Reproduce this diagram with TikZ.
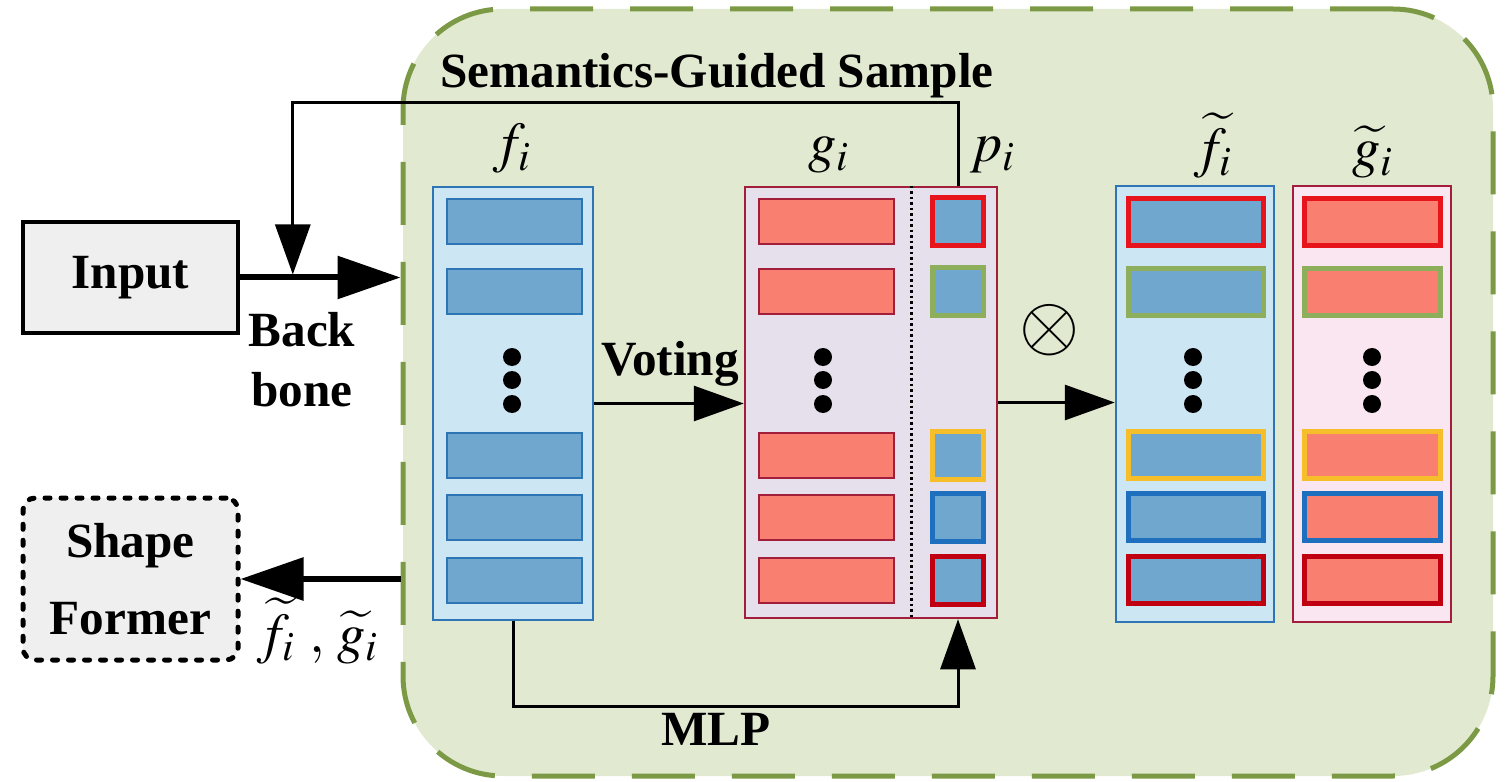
\documentclass[tikz,border=0pt]{standalone}
\usepackage{amsmath}
\usepackage{mathptmx}
\usepackage{fontspec}
\setmainfont{Liberation Serif}
\usepackage{tikz}
\usetikzlibrary{arrows.meta,calc}
\definecolor{regfill}{HTML}{E1E9D0}
\definecolor{regline}{HTML}{7C9A45}
\definecolor{boxgray}{HTML}{EFEFEF}
\definecolor{colblue}{HTML}{CCE6F3}
\definecolor{barblue}{HTML}{6FA7CF}
\definecolor{edgeblue}{HTML}{2E75B6}
\definecolor{collav}{HTML}{E6DFEC}
\definecolor{colpink}{HTML}{FAE6F1}
\definecolor{barred}{HTML}{F98070}
\definecolor{edgered}{HTML}{A31E3B}
\definecolor{rimred}{HTML}{E8141C}
\definecolor{rimgreen}{HTML}{8DAE5B}
\definecolor{rimyellow}{HTML}{F6BE2B}
\definecolor{rimblue}{HTML}{1F6FBF}
\definecolor{rimdark}{HTML}{C00010}
\tikzset{
  region/.style={draw=regline, fill=regfill, line width=0.5mm, dash pattern=on 6.3mm off 3.7mm, rounded corners=10mm, inner sep=0},
  io/.style={draw=black, fill=boxgray, line width=0.35mm, inner sep=0, align=center, font=\fontsize{14}{22}\selectfont\bfseries},
  sfbox/.style={io, line width=0.5mm, line cap=round, dash pattern=on 0.5mm off 1.1mm, rounded corners=1.2mm},
  col/.style={line width=0.25mm, inner sep=0, minimum height=43.3mm},
  bar/.style={line width=0.2mm},
  rim/.style={line width=0.5mm},
  divider/.style={line width=0.3mm, dash pattern=on 0.25mm off 0.3mm},
  thk/.style={line width=0.6mm, -{Triangle[length=6.3mm,width=4.2mm]}},
  thn/.style={line width=0.3mm, -{Triangle[length=5mm,width=3.5mm]}},
  labb/.style={font=\fontsize{14}{17}\selectfont\bfseries, inner sep=0},
  labm/.style={font=\fontsize{16}{19}\selectfont, inner sep=0, anchor=base}
}
% bar: style, centre x, centre y, width, height
\newcommand{\FeatBar}[5]{%
  \draw[#1] (#2-#4/2,#3-#5/2) rectangle (#2+#4/2,#3+#5/2);
}

\begin{document}
\begin{tikzpicture}[x=0.1mm, y=-0.1mm]
  \useasboundingbox (0,0) rectangle (1512,782);

  \node[region, minimum width=109mm, minimum height=76.7mm] (reg) at (948,392.5) {};
  \node[labb, anchor=base] (title) at (717,88) {Semantics-Guided Sample};

  \node[io, minimum width=21.5mm, minimum height=11.1mm] (inp) at (130.5,277.5) {Input};
  \node[sfbox, minimum width=21.5mm, minimum height=16.2mm] (sf) at (130.5,579) {Shape\\Former};

  % feature columns
  \node[col, draw=edgeblue, fill=colblue, minimum width=16mm] (fcol) at (513,403.5) {};
  \node[col, draw=edgered, fill=collav, minimum width=25.2mm, minimum height=43.1mm] (gcol) at (871,402.5) {};
  \node[col, draw=edgeblue, fill=colblue, minimum width=15.8mm, minimum height=43.6mm] (ftcol) at (1195,404) {};
  \node[col, draw=edgered, fill=colpink, minimum width=15.8mm, minimum height=43.6mm] (gtcol) at (1372,404) {};

  \coordinate (dv) at (911,0);
  \coordinate (pc) at (958,0);
  \draw[divider] (gcol.north -| dv) -- (gcol.south -| dv);

  \foreach \y in {222,292,455,517,580}{
    \FeatBar{bar, draw=edgeblue, fill=barblue}{514.5}{\y}{135}{45}
    \FeatBar{bar, draw=edgered, fill=barred}{826}{\y}{135}{45}
  }
  \foreach \y/\c in {222/rimred,292/rimgreen,455/rimyellow,517/rimblue,580/rimdark}{
    \FeatBar{rim, draw=\c, fill=barblue}{957.5}{\y}{51}{48}
    \FeatBar{rim, draw=\c, fill=barblue}{1195.5}{\y}{135}{47}
    \FeatBar{rim, draw=\c, fill=barred}{1372}{\y}{136}{47}
  }
  \foreach \x in {512,823,1193,1372}
    \foreach \y in {357,380,404} \fill (\x,\y) circle (0.9mm);

  \node[labm] (flab) at (512,162) {$f_i$};
  \node[labm] (glab) at (829,162) {$g_i$};
  \node[labm] (plab) at (993,162) {$p_i$};
  \node[labm] (ftlab) at (1213,167) {$\widetilde{f}_i$};
  \node[labm] (gtlab) at (1373,167) {$\widetilde{g}_i$};

  % connectors
  \draw[thk] (inp.east) -- (inp.east -| reg.west);
  \coordinate (fb) at ($(inp.east)!0.33!(inp.east -| reg.west)$);
  \draw[thn, shorten >=0.3mm] (gcol.north -| pc) -- ++(0,-83) -| (fb);
  \node[labb, align=center, font=\fontsize{14}{17}\selectfont\bfseries] (bb) at (302,360) {Back\\bone};

  \draw[thn] (fcol.east) -- (fcol.east -| gcol.west);
  \node[labb, anchor=base] (vot) at (670,376) {Voting};

  \draw[thn] (gcol.east) -- (gcol.east -| ftcol.west);
  \node[font=\fontsize{22}{26}\selectfont, inner sep=0] (mul) at (1050,330) {$\otimes$};

  \draw[thn] (fcol.south) -- ++(0,85) -| (gcol.south -| pc);
  \node[labb, anchor=base] (mlp) at (716,745) {MLP};

  \draw[thk] (reg.west |- sf.east) -- (sf.east);
  \node[labm] (sflab) at (318,652) {$\widetilde{f}_i\ ,\,\widetilde{g}_i$};
\end{tikzpicture}
\end{document}
